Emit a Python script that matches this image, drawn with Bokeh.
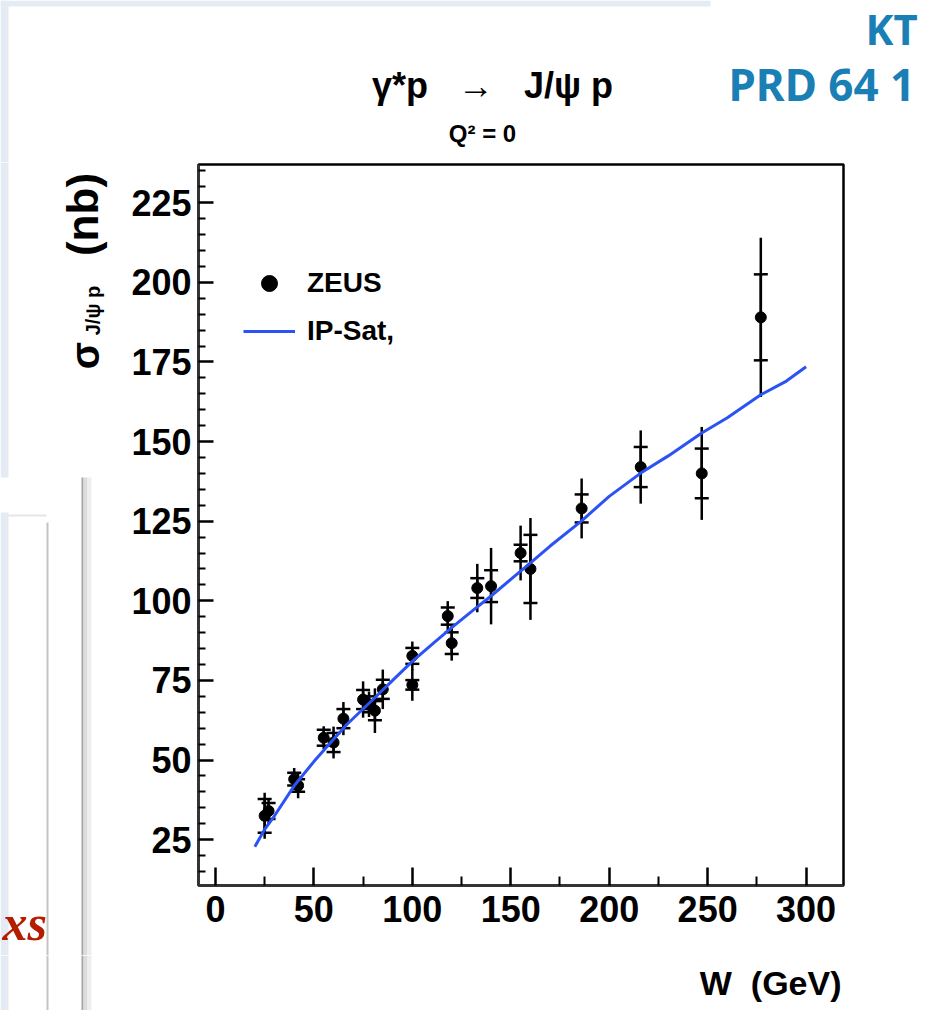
import math
from bokeh.plotting import figure
from bokeh.layouts import row, column
from bokeh.models import (Range1d, FixedTicker, ColumnDataSource, Whisker, TeeHead,
                          Label, BoxAnnotation, Legend, LegendItem)
from bokeh.embed import file_html
from bokeh.resources import INLINE

# ---------------- data ----------------
W_data = [25, 27, 40, 42, 55, 60, 65, 75, 78, 81, 85, 100, 100, 118, 120, 133, 140, 155, 160, 186, 216, 247, 277]
sigma_data = [32.5, 34.0, 44.0, 42.0, 57.0, 55.5, 63.0, 69.0, 67.5, 65.5, 72.2, 82.7, 73.6, 95.2, 86.7, 104.0, 104.6, 115.0, 110.0, 129.0, 142.0, 140.0, 189.0]
err_stat = [5.3, 2.5, 2.0, 2.0, 2.5, 3.0, 3.0, 3.0, 2.5, 3.0, 3.0, 2.5, 1.5, 2.7, 3.4, 3.1, 5.0, 2.6, 10.7, 4.4, 6.3, 7.8, 13.5]
err_tot = [7.2, 4.0, 3.5, 4.0, 3.6, 5.0, 5.2, 5.7, 4.0, 7.0, 6.2, 4.5, 5.0, 4.7, 5.5, 7.6, 12.0, 8.6, 16.0, 9.4, 11.5, 14.6, 25.0]

W_curve = [20, 25, 30, 40, 50, 60, 67, 80, 90, 100, 110, 120, 130, 140, 150, 160, 170, 186, 200, 216, 230, 247, 260, 277, 290, 300]
sigma_curve = [22.8, 28.2, 32.5, 41.9, 49.5, 56.5, 61.3, 69.0, 75.0, 81.0, 86.3, 91.6, 96.6, 101.5, 106.7, 111.9, 117.2, 125.1, 132.8, 140.1, 145.5, 152.7, 157.5, 164.7, 169.0, 173.5]

x_ticks = [0, 50, 100, 150, 200, 250, 300]
x_minor = [25, 75, 125, 175, 225, 275]
y_ticks = [25, 50, 75, 100, 125, 150, 175, 200, 225]
y_minor = [v for v in range(15, 240, 5) if v % 25 != 0]

FONT = "Liberation Sans"
BLUE = "#2b52f5"
TEAL = "#1a7fb5"
SLIDE = "#e4ebf4"
NB = "\u00a0"

TOTAL_W, TOTAL_H = 930, 1010
LEFT_W = 128          # left strip (y-label, slide decorations)
TOP_H = 162           # title strip
BOT_H = 55            # x-label strip
MAIN_W = TOTAL_W - LEFT_W
MAIN_H = TOTAL_H - TOP_H - BOT_H


class Panel:
    """A plain figure whose frame fills it; positions are given in page pixels."""

    def __init__(self, width, height, x0, y0):
        f = figure(width=width, height=height, output_backend="svg", toolbar_location=None,
                   x_range=Range1d(x0, x0 + width), y_range=Range1d(0, height),
                   x_axis_type=None, y_axis_type=None, min_border=0)
        f.title.visible = False
        f.grid.visible = False
        f.outline_line_color = None
        f.background_fill_color = "white"
        f.border_fill_color = "white"
        self.fig = f
        self.ybot = y0 + height

    def text(self, text, px, py, size, font=FONT, style="bold", color="black",
             align="center", angle=0.0):
        self.fig.add_layout(Label(x=px, y=self.ybot - py, text=text,
                                  text_font=font, text_font_style=style, text_font_size=size,
                                  text_color=color, text_align=align, text_baseline="middle",
                                  angle=angle))

    def box(self, x0, x1, y0, y1, color):
        self.fig.add_layout(BoxAnnotation(left=x0, right=x1, top=self.ybot - y0,
                                          bottom=self.ybot - y1, fill_color=color,
                                          fill_alpha=1, line_color=None))


def slide_edges(pn, y0, y1):
    """left slide strip and the two vertical window edges between page rows y0..y1"""
    if y0 < 477:
        pn.box(0, 8, y0, min(y1, 477), SLIDE)
    if y1 > 512:
        pn.box(0, 8, max(y0, 512), y1, SLIDE)
    if y1 > 522:
        pn.box(46, 48, max(y0, 522), y1, "#c4c4c4")
    if y1 > 477:
        pn.box(81, 83, max(y0, 477), y1, "#a4a4a4")
        pn.box(83, 87, max(y0, 477), y1, "#dcdcdc")
        pn.box(87, 91, max(y0, 477), y1, "#eeeeee")


# ---------------- top strip ----------------
T = Panel(TOTAL_W, TOP_H, 0, 0)
T.box(0, 710, 0, 6, SLIDE)
slide_edges(T, 0, TOP_H)
T.text(f"γ*p{NB}{NB}{NB}→{NB}{NB}{NB}J/ψ{NB}p", 492, 85, "36px")
T.text("Q² = 0", 482, 133, "24px")
T.text("KT", 865, 28, "42px", font="Noto Sans", color=TEAL, align="left")
T.text("PRD 64 1", 728, 83, "44px", font="Noto Sans", color=TEAL, align="left")

# ---------------- left strip ----------------
L = Panel(LEFT_W, MAIN_H, 0, TOP_H)
slide_edges(L, TOP_H, TOP_H + MAIN_H)
L.box(8, 46, 514, 516, "#e6e6e6")
L.text("(nb)", 82, 214, "44px", angle=math.pi / 2)
L.text("J/ψ p", 92, 310, "20px", angle=math.pi / 2)
L.text("σ", 84, 355, "40px", angle=math.pi / 2)
L.text("xs", 2, 922, "50px", font="Liberation Serif", style="bold italic",
       color="#b51d00", align="left")

# ---------------- bottom strip ----------------
B = Panel(TOTAL_W, BOT_H, 0, TOTAL_H - BOT_H)
slide_edges(B, TOTAL_H - BOT_H, TOTAL_H)
B.text(f"W{NB}{NB}(GeV)", 841, 982, "34px", align="right")

# ---------------- main plot ----------------
p = figure(width=MAIN_W, height=MAIN_H, output_backend="svg", toolbar_location=None,
           x_range=Range1d(-8.6, 319), y_range=Range1d(10.6, 237),
           min_border_left=70, min_border_right=87, min_border_top=2, min_border_bottom=70)
p.title.visible = False
p.background_fill_color = "white"
p.border_fill_color = "white"
p.outline_line_color = "black"
p.outline_line_width = 2.5
p.grid.visible = False

p.xaxis.ticker = FixedTicker(ticks=x_ticks, minor_ticks=x_minor)
p.yaxis.ticker = FixedTicker(ticks=y_ticks, minor_ticks=y_minor)
for ax in (p.xaxis[0], p.yaxis[0]):
    ax.axis_line_width = 2.5
    ax.axis_line_color = "#333333"
    ax.major_tick_out = 0
    ax.minor_tick_out = 0
    ax.major_tick_line_width = 2.5
    ax.minor_tick_line_width = 2
    ax.major_label_text_font = FONT
    ax.major_label_text_font_style = "bold"
    ax.major_label_text_font_size = "36px"
    ax.major_label_text_color = "black"
p.xaxis.major_tick_in = 18
p.xaxis.minor_tick_in = 9
p.yaxis.major_tick_in = 15
p.yaxis.minor_tick_in = 7
p.xaxis.major_label_standoff = 10
p.yaxis.major_label_standoff = 7

src = ColumnDataSource(dict(
    W=W_data, s=sigma_data,
    tot_lo=[s - e for s, e in zip(sigma_data, err_tot)],
    tot_hi=[s + e for s, e in zip(sigma_data, err_tot)],
    st_lo=[s - e for s, e in zip(sigma_data, err_stat)],
    st_hi=[s + e for s, e in zip(sigma_data, err_stat)],
))
p.segment(x0="W", y0="tot_lo", x1="W", y1="tot_hi", source=src, line_color="black", line_width=2.5)
stat = Whisker(base="W", lower="st_lo", upper="st_hi", source=src, dimension="height",
               line_color="black", line_width=2.5,
               upper_head=TeeHead(size=14, line_width=2.5, line_color="black"),
               lower_head=TeeHead(size=14, line_width=2.5, line_color="black"))
p.add_layout(stat)
zeus = p.scatter("W", "s", source=src, size=11, color="black")
curve = p.line(W_curve, sigma_curve, line_color=BLUE, line_width=3)

legend = Legend(items=[LegendItem(label="ZEUS", renderers=[zeus]),
                       LegendItem(label="IP-Sat,", renderers=[curve])],
                location=(45, 534), orientation="vertical",
                glyph_width=52, glyph_height=40, label_height=40, spacing=8,
                padding=0, margin=0, label_standoff=12,
                border_line_alpha=0, background_fill_alpha=0,
                label_text_font=FONT, label_text_font_style="bold",
                label_text_font_size="28px", label_text_color="black")
p.add_layout(legend)

layout = column(T.fig, row(L.fig, column(p)), B.fig)
open("out.html", "w").write(file_html(layout, INLINE))
